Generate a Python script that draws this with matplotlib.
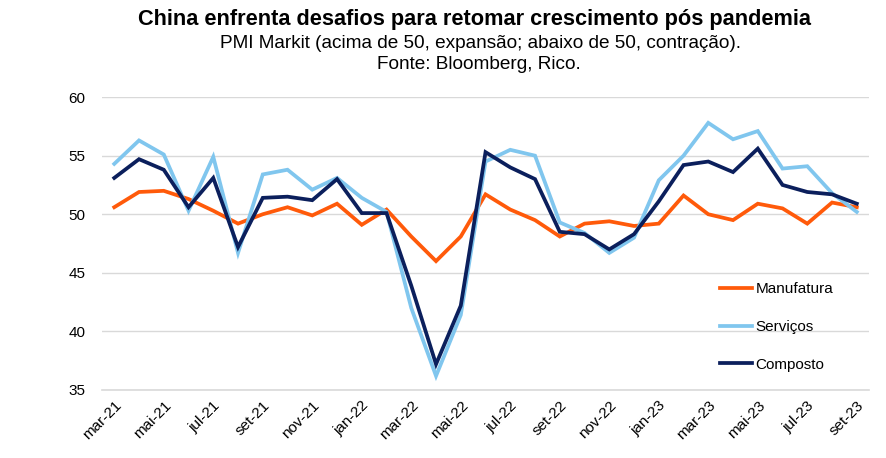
import matplotlib
matplotlib.use("Agg")
import matplotlib.pyplot as plt

plt.rcParams['font.family'] = ['Liberation Sans', 'DejaVu Sans']

months = ["mar-21", "abr-21", "mai-21", "jun-21", "jul-21", "ago-21", "set-21", "out-21",
          "nov-21", "dez-21", "jan-22", "fev-22", "mar-22", "abr-22", "mai-22", "jun-22",
          "jul-22", "ago-22", "set-22", "out-22", "nov-22", "dez-22", "jan-23", "fev-23",
          "mar-23", "abr-23", "mai-23", "jun-23", "jul-23", "ago-23", "set-23"]

manufatura = [50.6, 51.9, 52.0, 51.3, 50.3, 49.2, 50.0, 50.6, 49.9, 50.9, 49.1, 50.4,
              48.1, 46.0, 48.1, 51.7, 50.4, 49.5, 48.1, 49.2, 49.4, 49.0, 49.2, 51.6,
              50.0, 49.5, 50.9, 50.5, 49.2, 51.0, 50.6]
servicos = [54.3, 56.3, 55.1, 50.3, 54.9, 46.7, 53.4, 53.8, 52.1, 53.1, 51.4, 50.2,
            42.0, 36.2, 41.4, 54.5, 55.5, 55.0, 49.3, 48.4, 46.7, 48.0, 52.9, 55.0,
            57.8, 56.4, 57.1, 53.9, 54.1, 51.8, 50.2]
composto = [53.1, 54.7, 53.8, 50.6, 53.1, 47.2, 51.4, 51.5, 51.2, 53.0, 50.1, 50.1,
            43.9, 37.2, 42.2, 55.3, 54.0, 53.0, 48.5, 48.3, 47.0, 48.3, 51.1, 54.2,
            54.5, 53.6, 55.6, 52.5, 51.9, 51.7, 50.9]

series_names = ["Manufatura", "Serviços", "Composto"]
colors = ["#FF5A0A", "#80C6EE", "#0B1F5C"]
yticks = [35, 40, 45, 50, 55, 60]

fig = plt.figure(figsize=(8.86, 4.58), dpi=100)
ax = fig.add_axes([0.115, 0.1485, 0.866, 0.6395])

x = list(range(len(months)))
for vals, name, c in zip([manufatura, servicos, composto], series_names, colors):
    ax.plot(x, vals, color=c, lw=2.7, label=name, solid_joinstyle='miter')

ax.set_xlim(-0.5, len(months) - 0.5)
ax.set_ylim(35, 60)
ax.set_yticks(yticks)
ax.set_yticklabels([str(v) for v in yticks], fontsize=11)
ax.set_xticks(x[::2])
ax.set_xticklabels(months[::2], rotation=45, ha='right', rotation_mode='anchor', fontsize=11)
ax.tick_params(axis='both', length=0)
ax.tick_params(axis='y', pad=12)
ax.tick_params(axis='x', pad=6)
ax.grid(axis='y', color='#D9D9D9', lw=1)
ax.set_axisbelow(True)
for s in ['top', 'right', 'left']:
    ax.spines[s].set_visible(False)
ax.spines['bottom'].set_color('#D9D9D9')
ax.spines['bottom'].set_linewidth(1.2)

leg = ax.legend(loc='upper left', bbox_to_anchor=(0.788, 0.415), frameon=False, fontsize=11,
                handlelength=2.1, handletextpad=0.2, labelspacing=1.55)

fig.text(0.535, 0.958, "China enfrenta desafios para retomar crescimento pós pandemia",
         ha='center', va='center', fontsize=15.7, fontweight='bold')
fig.text(0.542, 0.905, "PMI Markit (acima de 50, expansão; abaixo de 50, contração).",
         ha='center', va='center', fontsize=13.7)
fig.text(0.540, 0.859, "Fonte: Bloomberg, Rico.", ha='center', va='center', fontsize=13.7)

fig.savefig("out.png", dpi=100)
